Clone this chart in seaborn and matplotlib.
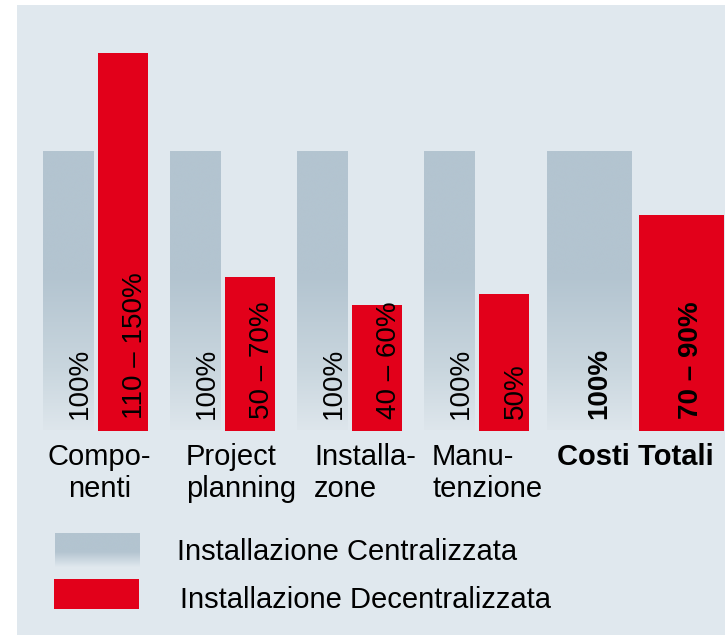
import matplotlib
matplotlib.use("Agg")
import matplotlib.pyplot as plt
import seaborn as sns
import pandas as pd
import numpy as np
from matplotlib.colors import LinearSegmentedColormap
from matplotlib.patches import Rectangle

# ---------------- data ----------------
categories = ["Compo-\nnenti", "Project\nplanning", "Installa-\nzone", "Manu-\ntenzione", "Costi Totali"]
series_names = ["Installazione Centralizzata", "Installazione Decentralizzata"]
centralizzata = [100, 100, 100, 100, 100]
decentralizzata = [135, 55, 45, 49, 77]
centralizzata_labels = ["100%", "100%", "100%", "100%", "100%"]
decentralizzata_labels = ["110 – 150%", "50 – 70%", "40 – 60%", "50%", "70 – 90%"]
bold_category = "Costi Totali"

# ---------------- style / layout ----------------
W, H = 725, 635
BG = "#e0e8ee"
GRAY = "#b3c4d0"
RED = "#e2001a"
BASE_PX = 430.5      # baseline (pixel row)
TOP_PX = 5
HUNDRED_PX = 279.5   # pixel height of 100 %
PX_PER_CAT = 127.0
FIRST_CAT_PX = 95.5
LAST_CENTER_PX = 635.5
LAST_SCALE = 1.68

sns.set_theme(style="white")
plt.rcParams["font.family"] = ["Liberation Sans", "DejaVu Sans"]
plt.rcParams["text.color"] = "black"

df = pd.DataFrame({
    "categoria": categories * 2,
    "valore": centralizzata + decentralizzata,
    "serie": [series_names[0]] * len(categories) + [series_names[1]] * len(categories),
})

fig = plt.figure(figsize=(W / 100, H / 100), dpi=100)
fig.patch.set_facecolor("white")
fig.patches.append(Rectangle((17 / W, 0), 1 - 17 / W, 1 - TOP_PX / H, transform=fig.transFigure,
                             facecolor=BG, edgecolor="none", zorder=-5))

ax = fig.add_axes([0, (H - BASE_PX) / H, 1, (BASE_PX - TOP_PX) / H])
ax.patch.set_alpha(0)

sns.barplot(data=df, x="categoria", y="valore", hue="serie", order=categories,
            hue_order=series_names, palette=[GRAY, RED], width=0.86, gap=0.08,
            saturation=1, errorbar=None, legend=False, ax=ax, linewidth=0)

# widen / shift the total group
last = len(categories) - 1
shift = (LAST_CENTER_PX - FIRST_CAT_PX) / PX_PER_CAT - last
for cont in ax.containers:
    bar = cont.patches[last]
    c_off = bar.get_x() + bar.get_width() / 2 - last
    w = bar.get_width() * LAST_SCALE
    newc = last + shift + c_off * LAST_SCALE
    bar.set_x(newc - w / 2)
    bar.set_width(w)

# gradient for centralised bars
cmap = LinearSegmentedColormap.from_list(
    "fade", [(0, "#dee6ec"), (0.22, "#c9d6de"), (0.55, GRAY), (1, GRAY)])
grad = np.linspace(0, 1, 256).reshape(-1, 1)
for bar in ax.containers[0].patches:
    x0, w, h = bar.get_x(), bar.get_width(), bar.get_height()
    im = ax.imshow(grad, cmap=cmap, origin="lower", extent=(x0, x0 + w, 0, h),
                   aspect="auto", zorder=bar.get_zorder(), interpolation="bicubic")
    im.set_clip_path(bar)
    bar.set_facecolor("none")

ax.set_xlim(-FIRST_CAT_PX / PX_PER_CAT, (W - FIRST_CAT_PX) / PX_PER_CAT)
ax.set_ylim(0, (BASE_PX - TOP_PX) / HUNDRED_PX * 100)
ax.set_axis_off()

# labels inside bars
for cont, labels in zip(ax.containers, [centralizzata_labels, decentralizzata_labels]):
    for i, (bar, lab) in enumerate(zip(cont.patches, labels)):
        cx = bar.get_x() + bar.get_width() / 2
        bold = categories[i] == bold_category
        dx = 17 if bold else 19
        ax.annotate(lab, xy=(cx, 0), xytext=(dx * 0.72, 11.5 * 0.72), textcoords="offset points",
                    rotation=90, rotation_mode="anchor", ha="left", va="baseline",
                    fontsize=20, color="black", fontweight="bold" if bold else "normal",
                    annotation_clip=False)

# category labels
label_x = [(0.03, "center", "center"), (0.713, "left", "left"), (1.72, "left", "left"),
           (2.65, "left", "left"), (last + shift, "center", "center")]
for cat, (x, ha, ma) in zip(categories, label_x):
    ax.annotate(cat, xy=(x, 0), xytext=(0, -12.5 * 0.72), textcoords="offset points",
                ha=ha, va="top", multialignment=ma, fontsize=21, linespacing=1.2,
                color="black", fontweight="bold" if cat == bold_category else "normal",
                annotation_clip=False)

# legend
sw = fig.add_axes([55 / W, (H - 567) / H, 85 / W, 34 / H])
cmap2 = LinearSegmentedColormap.from_list("fade2", [(0, BG), (0.45, GRAY), (1, GRAY)])
sw.imshow(grad, cmap=cmap2, origin="lower", aspect="auto", interpolation="bicubic")
sw.set_axis_off()
fig.patches.append(Rectangle((54 / W, (H - 609) / H), 85 / W, 30 / H, transform=fig.transFigure,
                             facecolor=RED, edgecolor="none", zorder=1))
fig.text(177 / W, (H - 560) / H, series_names[0], fontsize=21, va="baseline", ha="left", color="black")
fig.text(180 / W, (H - 608) / H, series_names[1], fontsize=21, va="baseline", ha="left", color="black")

fig.savefig("out.png", dpi=100, facecolor=fig.get_facecolor())
